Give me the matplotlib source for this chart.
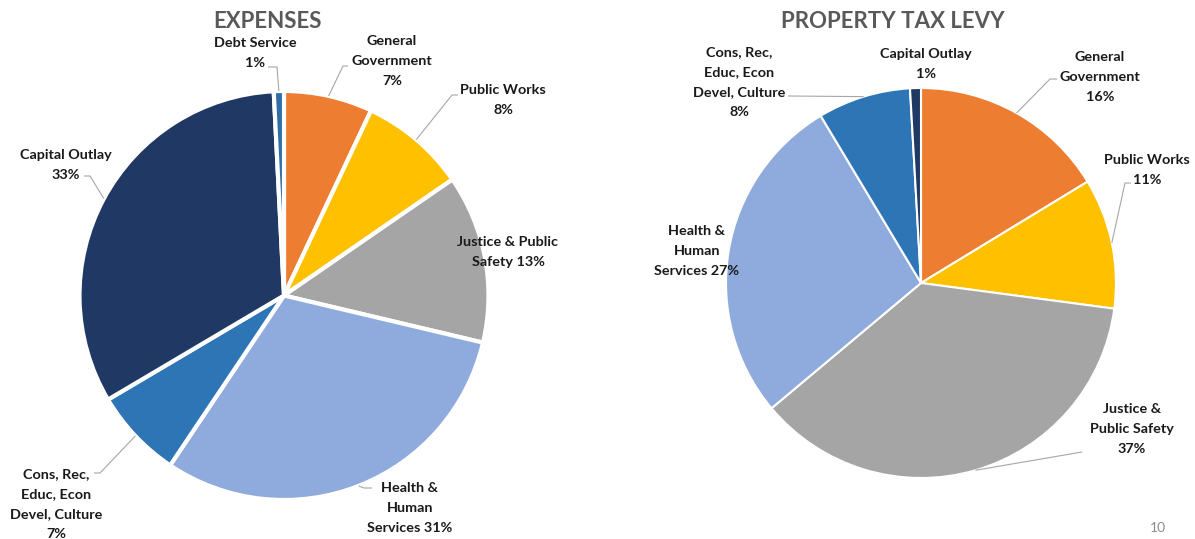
import numpy as np
import matplotlib
matplotlib.use("Agg")
import matplotlib.pyplot as plt

W, H = 1195, 539

# ---------------- data ----------------
exp_labels = ["General\nGovernment\n7%", "Public Works\n8%", "Justice & Public\nSafety 13%",
              "Health &\nHuman\nServices 31%", "Cons, Rec,\nEduc, Econ\nDevel, Culture\n7%",
              "Capital Outlay\n33%", "Debt Service\n1%"]
exp_values = [7.0, 8.4, 13.3, 30.7, 7.1, 32.7, 0.8]
exp_colors = ["#ED7D31", "#FFC000", "#A5A5A5", "#8FAADC", "#2E75B6", "#203864", "#2E6DA6"]

levy_labels = ["General\nGovernment\n16%", "Public Works\n11%", "Justice &\nPublic Safety\n37%",
               "Health &\nHuman\nServices 27%", "Cons, Rec,\nEduc, Econ\nDevel, Culture\n8%",
               "Capital Outlay\n1%"]
levy_values = [16.3, 10.8, 36.8, 27.5, 7.7, 0.9]
levy_colors = ["#ED7D31", "#FFC000", "#A5A5A5", "#8FAADC", "#2E75B6", "#203864"]

titles = ["EXPENSES", "PROPERTY TAX LEVY"]

plt.rcParams['font.family'] = ['Lato', 'DejaVu Sans']

fig = plt.figure(figsize=(W / 100, H / 100), dpi=100)
ax = fig.add_axes([0, 0, 1, 1])
ax.set_xlim(0, W)
ax.set_ylim(0, H)
ax.set_aspect('equal')
ax.axis('off')

def Y(y):
    return H - y

LEAD = "#A6A6A6"
TXT = "#1a1a1a"

def draw_pie(values, colors, labels, cx, cy, r, lw, label_pos, leaders):
    wedges, _ = ax.pie(values, colors=colors, startangle=90, counterclock=False,
                       center=(cx, Y(cy)), radius=r, frame=True,
                       wedgeprops=dict(edgecolor="white", linewidth=lw))
    for i, w in enumerate(wedges):
        lx, ly = label_pos[i]
        ax.text(lx, Y(ly), labels[i], ha="center", va="center", fontsize=10.4,
                fontweight="bold", color=TXT, linespacing=1.78)
        if leaders[i] is not None:
            mid = np.deg2rad((w.theta1 + w.theta2) / 2)
            ex, ey = cx + r * np.cos(mid), Y(cy) + r * np.sin(mid)
            pts = [(ex, ey)] + [(px, Y(py)) for px, py in leaders[i]]
            xs, ys = zip(*pts)
            ax.plot(xs, ys, color=LEAD, lw=0.8, solid_capstyle="butt")

# Left pie
draw_pie(exp_values, exp_colors, exp_labels, 284, 295.5, 204.5, 3.0,
         [(392, 61), (503, 100), (508, 252), (410, 508), (56, 504), (66, 165), (255, 53)],
         [[(343, 66), (348, 66)], [(452, 95), (458, 95)], None,
          [(364, 488), (372, 488)], [(100, 473), (94, 473)], [(90, 176), (84, 176)],
          [(277, 67), (268, 67)]])

# Right pie
draw_pie(levy_values, levy_colors, levy_labels, 921, 283, 195, 1.5,
         [(1100, 77), (1147, 170), (1132, 429), (697, 251), (739, 82), (926, 64)],
         [[(1050, 79), (1057, 79)], [(1125, 183), (1131, 183)],
          [(1082, 452)], None, [(788, 96)], None])

ax.set_xlim(0, W)
ax.set_ylim(0, H)

ax.text(268, Y(21), titles[0], ha="center", va="center", fontsize=16,
        fontweight="bold", color="#595959")
ax.text(893, Y(22), titles[1], ha="center", va="center", fontsize=16,
        fontweight="bold", color="#595959")
ax.text(1158, Y(528), "10", ha="center", va="center", fontsize=10, color="#8C8C8C")

fig.savefig("out.png", dpi=100)
